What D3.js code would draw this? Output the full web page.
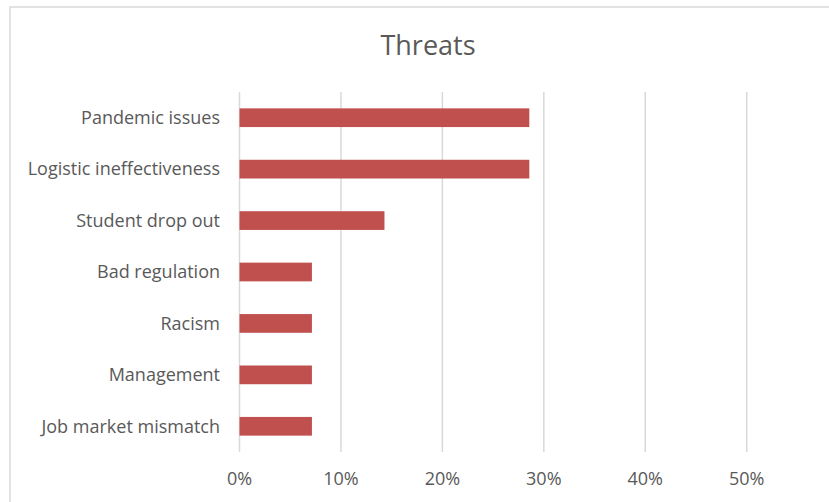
<!DOCTYPE html>
<html>
<head>
<meta charset="utf-8">
<script src="https://cdn.jsdelivr.net/npm/d3@7"></script>
<style>
body { margin: 0; background: #fff; }
svg { display: block; font-family: "Open Sans", "Noto Sans", sans-serif; }
</style>
</head>
<body>
<svg width="829" height="502"></svg>
<script>
const categories = ["Pandemic issues", "Logistic ineffectiveness", "Student drop out",
    "Bad regulation", "Racism", "Management", "Job market mismatch"];
const values = [0.2857, 0.2857, 0.1429, 0.0714, 0.0714, 0.0714, 0.0714];
const ticks = [0, 0.1, 0.2, 0.3, 0.4, 0.5];

const svg = d3.select("svg");

// chart border (cropped on right and bottom)
svg.append("rect")
    .attr("x", 10).attr("y", 7)
    .attr("width", 840).attr("height", 520)
    .attr("fill", "none")
    .attr("stroke", "#d9d9d9")
    .attr("stroke-width", 1.5);

svg.append("text")
    .attr("x", 428)
    .attr("y", 55)
    .attr("text-anchor", "middle")
    .attr("font-size", 27)
    .attr("fill", "#595959")
    .text("Threats");

let x = d3.scaleLinear()
    .domain([0, 0.5])
    .range([239.5, 746.7]);

let y = d3.scaleBand()
    .domain(categories)
    .range([92, 452])
    .paddingInner(0.636)
    .paddingOuter(0.318);

// gridlines
svg.selectAll("line.grid")
    .data(ticks)
    .enter()
    .append("line")
    .attr("class", "grid")
    .attr("x1", d => x(d)).attr("x2", d => x(d))
    .attr("y1", 92).attr("y2", 452)
    .attr("stroke", "#d9d9d9")
    .attr("stroke-width", 1.5);

svg.selectAll("rect.bar")
    .data(values)
    .enter()
    .append("rect")
    .attr("class", "bar")
    .attr("x", x(0))
    .attr("y", (d, i) => y(categories[i]))
    .attr("width", d => x(d) - x(0))
    .attr("height", y.bandwidth())
    .attr("fill", "#c0504d");

svg.selectAll("text.cat")
    .data(categories)
    .enter()
    .append("text")
    .attr("class", "cat")
    .attr("x", 220)
    .attr("y", d => y(d) + y.bandwidth() / 2)
    .attr("dy", "0.35em")
    .attr("text-anchor", "end")
    .attr("font-size", 18)
    .attr("fill", "#595959")
    .text(d => d);

svg.selectAll("text.tick")
    .data(ticks)
    .enter()
    .append("text")
    .attr("class", "tick")
    .attr("x", d => x(d))
    .attr("y", 479)
    .attr("dy", "0.35em")
    .attr("text-anchor", "middle")
    .attr("font-size", 18)
    .attr("fill", "#595959")
    .text(d => d3.format(".0%")(d));
</script>
</body>
</html>
